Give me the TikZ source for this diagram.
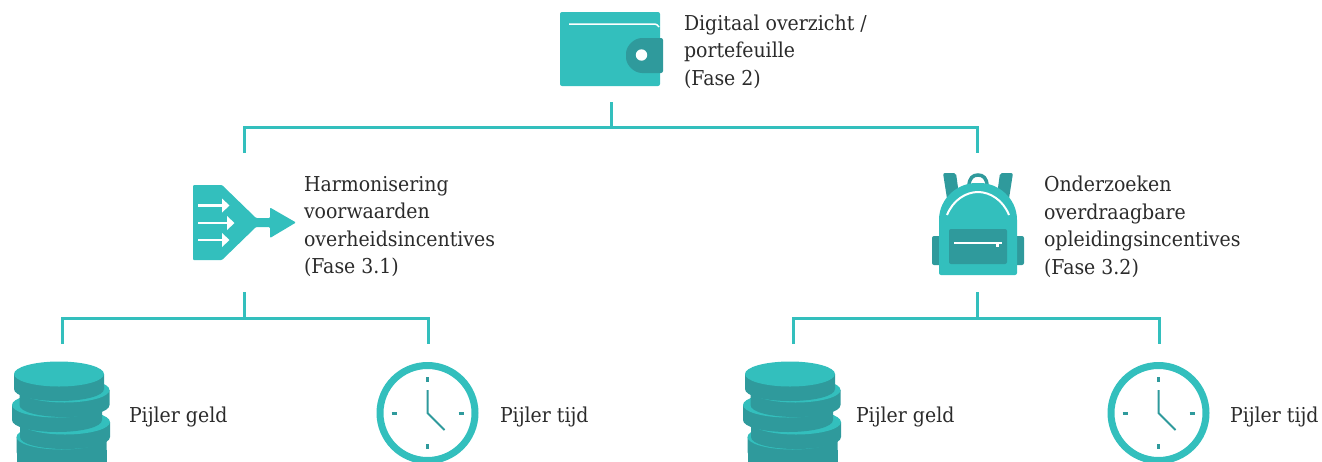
\documentclass[tikz,border=0pt]{standalone}
\usepackage{fontspec}
\setmainfont{DejaVu Serif}[FakeStretch=0.923]
\definecolor{teal1}{HTML}{33BFBD}
\definecolor{teal2}{HTML}{2F9A9C}
\definecolor{txt}{HTML}{2B2B2B}
\tikzset{
  conn/.style={draw=teal1,line width=3pt},
  anchorbox/.style={inner sep=0pt,outer sep=0pt,minimum width=#1},
  lab/.style={anchor=north west,inner sep=0pt,outer sep=0pt,align=left,text=txt,font=\fontsize{20.5}{27.5}\selectfont,execute at begin node={\rule{0pt}{18pt}}},
  lab1/.style={anchor=base west,inner sep=0pt,outer sep=0pt,text=txt,font=\fontsize{20.5}{27.5}\selectfont},
  light/.style={fill=teal1,draw=none},
  dark/.style={fill=teal2,draw=none},
  coinstack/.pic={
    \path[dark] (16.5,450) rectangle (106.5,470);
    \foreach \cx/\cy in {61.5/437,65/422,57/405,64.5/390,59/374}{
      \path[dark] (\cx-45,\cy) -- (\cx-45,\cy+15) .. controls (\cx-45,\cy+22) and (\cx-25,\cy+27) .. (\cx,\cy+27) .. controls (\cx+25,\cy+27) and (\cx+45,\cy+22) .. (\cx+45,\cy+15) -- (\cx+45,\cy) -- cycle;
      \path[light] (\cx,\cy) ellipse[x radius=45,y radius=12.5];
    }
  },
  clockface/.pic={
    \draw[teal1,line width=7pt] (0,0) circle[radius=47.5];
    \draw[teal2,line width=3pt] (0,-36)--(0,-31) (0,31)--(0,36) (-36,0)--(-31,0) (31,0)--(36,0);
    \draw[teal2,line width=2pt,line join=miter] (0,-23)--(0,0)--(17,17);
  }
}
\begin{document}
\begin{tikzpicture}[x=1pt,y=-1pt]
\useasboundingbox (0,0) rectangle (1322,461);
% wallet
\path[light,rounded corners=2pt] (560,12) rectangle (660,86);
\draw[white,line width=1.5pt] (569,24) -- (655,24) to[out=0,in=135] (659,27);
\path[dark,rounded corners=2pt] (663,38) -- (663,73) -- (644,73) .. controls (634,73) and (626,65) .. (626,55.5) .. controls (626,46) and (634,38) .. (644,38) -- cycle;
\fill[white] (641.5,55) circle[radius=5.7];
% funnel
\path[light,rounded corners=1pt] (193,185)--(222,185)--(256,218)--(270,218)--(270,207.5)--(296,222.5)--(270,238)--(270,227)--(256,227)--(222,260)--(193,260)--cycle;
\foreach \yy/\xx in {205.5/224,223/229,240/224}{
  \draw[white,line width=2.5pt] (198,\yy)--(\xx,\yy);
  \fill[white] (\xx-2,\yy-7)--(\xx+5.5,\yy)--(\xx-2,\yy+7)--cycle;
}
% backpack
\path[dark,rounded corners=2pt] (943,173)--(956,173)--(959,195)--(948,205)--cycle;
\path[dark,rounded corners=2pt] (1013,173)--(1000,173)--(997,195)--(1008,205)--cycle;
\draw[teal2,line width=3.5pt] (969,186) .. controls (969,178) and (973,175) .. (978,175) .. controls (983,175) and (987,178) .. (987,186);
\path[dark,rounded corners=2pt] (932,236) rectangle (945,265);
\path[dark,rounded corners=2pt] (1011,236) rectangle (1024,265);
\path[light,rounded corners=2pt] (939,275)--(939,222) .. controls (939,198) and (958,183) .. (978,183) .. controls (998,183) and (1017,198) .. (1017,222) -- (1017,275) -- cycle;
\draw[white,line width=2pt] (947,215) .. controls (953,200) and (966,192) .. (978,192) .. controls (990,192) and (1003,200) .. (1009,215);
\path[dark,rounded corners=2pt] (949,229) rectangle (1007,264);
\draw[white,line width=1.2pt] (954,243)--(1002,243);
\fill[white] (996,243) rectangle (998.5,247);
% coins and clocks
\pic at (0,0) {coinstack};
\pic at (731,0) {coinstack};
\pic at (427.5,413) {clockface};
\pic at (1158.5,413) {clockface};
% anchor nodes
\node[anchorbox=100pt,minimum height=100pt] (walleticon) at (611,52) {};
\node[anchorbox=104pt,minimum height=139pt] (funnelicon) at (244,222.5) {};
\node[anchorbox=92pt,minimum height=139pt] (packicon) at (977.5,222.5) {};
\node[anchorbox=90pt,minimum height=100pt] (coinsa) at (62,394) {};
\node[anchorbox=102pt,minimum height=100pt] (clocka) at (428,394) {};
\node[anchorbox=90pt,minimum height=100pt] (coinsb) at (793,394) {};
\node[anchorbox=102pt,minimum height=100pt] (clockb) at (1159,394) {};
\coordinate (hubtop) at (611,127);
\coordinate (hubleft) at (244,318);
\coordinate (hubright) at (977.5,318);
% connectors
\draw[conn] (walleticon.south) -- (hubtop);
\draw[conn] (funnelicon.north) |- (hubtop) -| (packicon.north);
\draw[conn] (funnelicon.south) -- (hubleft);
\draw[conn] (coinsa.north) |- (hubleft) -| (clocka.north);
\draw[conn] (packicon.south) -- (hubright);
\draw[conn] (coinsb.north) |- (hubright) -| (clockb.north);
% labels
\node[lab] (t1) at (684,14.5) {Digitaal overzicht /\\portefeuille\\(Fase 2)};
\node[lab] (t2) at (304,176) {Harmonisering\\voorwaarden\\overheidsincentives\\(Fase 3.1)};
\node[lab] (t3) at (1044,176) {Onderzoeken\\overdraagbare\\opleidingsincentives\\(Fase 3.2)};
\node[lab1] (t4) at (129,422) {Pijler geld};
\node[lab1] (t5) at (500,422) {Pijler tijd};
\node[lab1] (t6) at (856,422) {Pijler geld};
\node[lab1] (t7) at (1230,422) {Pijler tijd};
\end{tikzpicture}
\end{document}
